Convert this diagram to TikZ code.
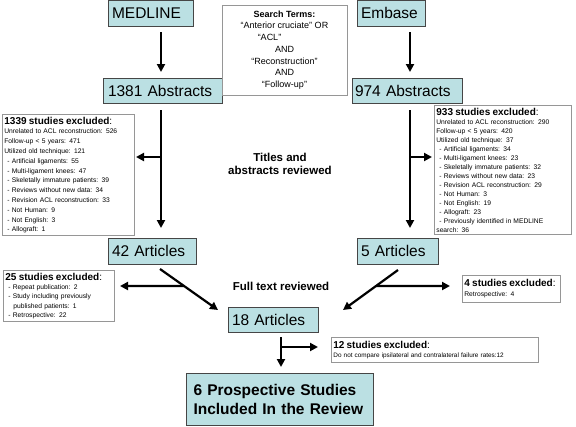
\documentclass[tikz,border=0pt]{standalone}
\usepackage{fontspec}
\setmainfont{Liberation Sans}
\usetikzlibrary{arrows.meta,calc}
\definecolor{boxfill}{RGB}{187,224,227}
\definecolor{boxline}{RGB}{70,70,70}
\definecolor{exline}{RGB}{150,150,150}
\tikzset{
  mainbox/.style={draw=boxline, line width=0.9pt, fill=boxfill, inner sep=0pt, align=left,
    font=\fontsize{15.5}{18}\selectfont},
  exbox/.style={draw=exline, line width=0.8pt, fill=white, inner xsep=2pt, inner ysep=2.5pt,
    align=left, anchor=north west},
  searchbox/.style={draw=exline, line width=0.8pt, fill=white, inner sep=0pt, align=center,
    font=\fontsize{9}{11.7}\selectfont},
  arr/.style={line width=2.2pt, -{Triangle[length=8pt,width=8pt]}},
  lbl/.style={font=\bfseries\fontsize{11.5}{13.5}\selectfont, align=center}
}
\newcommand{\extitle}[1]{{\fontsize{10}{12}\selectfont\textbf{#1}:}}
\begin{document}
\begin{tikzpicture}[x=1pt,y=-1pt]
\useasboundingbox (0,0) rectangle (576,426);

% main boxes
\node[mainbox, minimum width=85pt, minimum height=26pt, text width=77pt] (med) at (150.5,13.3) {MEDLINE};
\node[mainbox, minimum width=68pt, minimum height=26pt, text width=60pt] (emb) at (391,13.3) {Embase};
\node[mainbox, minimum width=119pt, minimum height=25pt, text width=109pt] (abs1) at (162.5,90.5) {1381 Abstracts};
\node[mainbox, minimum width=110pt, minimum height=25pt, text width=104pt] (abs2) at (407,90.5) {974 Abstracts};
\node[mainbox, minimum width=88pt, minimum height=26pt, text width=80pt] (art42) at (152,251) {42 Articles};
\node[mainbox, minimum width=81pt, minimum height=26pt, text width=73pt] (art5) at (397.5,251) {5 Articles};
\node[mainbox, minimum width=90pt, minimum height=25pt, text width=82pt] (art18) at (273,319.5) {18 Articles};
\node[mainbox, minimum width=187pt, minimum height=52pt, text width=172pt,
  font=\bfseries\fontsize{15.5}{19}\selectfont] (final) at (279.5,399)
  {6 Prospective Studies\\Included In the Review};

% search terms
\node[searchbox, minimum width=125pt, minimum height=90pt] (search) at (284.5,50)
  {\textbf{Search Terms:}\\``Anterior cruciate'' OR\\\hspace*{-30pt}``ACL''\\AND\\``Reconstruction''\\AND\\``Follow-up''};

% exclusion boxes
\node[exbox, text width=128pt, font=\fontsize{6.7}{9.8}\selectfont] (ex1) at (2,114) {%
\extitle{1339 studies excluded}\\[0pt]
Unrelated to ACL reconstruction: 526\\
Follow-up < 5 years: 471\\
Utilized old technique: 121\\
\hspace*{3pt}- Artificial ligaments: 55\\
\hspace*{3pt}- Multi-ligament knees: 47\\
\hspace*{3pt}- Skeletally immature patients: 39\\
\hspace*{3pt}- Reviews without new data: 34\\
\hspace*{3pt}- Revision ACL reconstruction: 33\\
\hspace*{3pt}- Not Human: 9\\
\hspace*{3pt}- Not English: 3\\
\hspace*{3pt}- Allograft: 1};

\node[exbox, text width=133pt, font=\fontsize{6.7}{9.0}\selectfont] (ex2) at (434,105) {%
\extitle{933 studies excluded}\\[0pt]
Unrelated to ACL reconstruction: 290\\
Follow-up < 5 years: 420\\
Utilized old technique: 37\\
\hspace*{3pt}- Artificial ligaments: 34\\
\hspace*{3pt}- Multi-ligament knees: 23\\
\hspace*{3pt}- Skeletally immature patients: 32\\
\hspace*{3pt}- Reviews without new data: 23\\
\hspace*{3pt}- Revision ACL reconstruction: 29\\
\hspace*{3pt}- Not Human: 3\\
\hspace*{3pt}- Not English: 19\\
\hspace*{3pt}- Allograft: 23\\
\hspace*{3pt}- Previously identified in MEDLINE\\
search: 36};

\node[exbox, text width=107pt, font=\fontsize{6.7}{9.3}\selectfont] (ex3) at (3,270) {%
\extitle{25 studies excluded}\\[0pt]
\hspace*{3pt}- Repeat publication: 2\\
\hspace*{3pt}- Study including previously\\
\hspace*{8pt}published patients: 1\\
\hspace*{3pt}- Retrospective: 22};

\node[exbox, text width=94pt, inner ysep=4pt, font=\fontsize{6.7}{10}\selectfont] (ex4) at (462,275) {%
\extitle{4 studies excluded}\\[0pt]
Retrospective: 4};

\node[exbox, text width=203pt, inner ysep=3.5pt, font=\fontsize{6.4}{9.5}\selectfont] (ex5) at (331,337) {%
\extitle{12 studies excluded}\\[0pt]
Do not compare ipsilateral and contralateral failure rates:12};

% labels
\node[lbl] (lab1) at (280,164) {Titles and\\abstracts reviewed};
\node[lbl] (lab2) at (281,286.5) {Full text reviewed};

% connector points
\coordinate (m1) at (161,32);  \coordinate (m2) at (161,72);
\coordinate (e1) at (410,32);  \coordinate (e2) at (410,72);
\coordinate (a1) at (161,110); \coordinate (a2) at (161,228);
\coordinate (ab) at (161,157); \coordinate (at) at (136,157);
\coordinate (b1) at (410,110); \coordinate (b2) at (410,228);
\coordinate (bb) at (410,157); \coordinate (bt) at (432,157);
\coordinate (d1s) at (160,269); \coordinate (d1e) at (218,310);
\coordinate (t3) at (120,286);
\coordinate (d2s) at (398,270); \coordinate (d2e) at (343,310);
\coordinate (t4) at (450,286);
\coordinate (f1) at (281,337); \coordinate (f2) at (281,367);
\coordinate (fb) at (281,347); \coordinate (ft) at (318,347);

% connectors
\draw[arr] (m1) -- (m2);
\draw[arr] (e1) -- (e2);
\draw[arr] (a1) -- (a2);
\draw[arr] (ab) -- (at);
\draw[arr] (b1) -- (b2);
\draw[arr] (bb) -- (bt);
\draw[arr] (d1s) -- (d1e);
\draw[arr] ($(d1s)!0.415!(d1e)$) -- (t3);
\draw[arr] (d2s) -- (d2e);
\draw[arr] ($(d2s)!0.4!(d2e)$) -- (t4);
\draw[arr] (f1) -- (f2);
\draw[arr] (fb) -- (ft);
\end{tikzpicture}
\end{document}
